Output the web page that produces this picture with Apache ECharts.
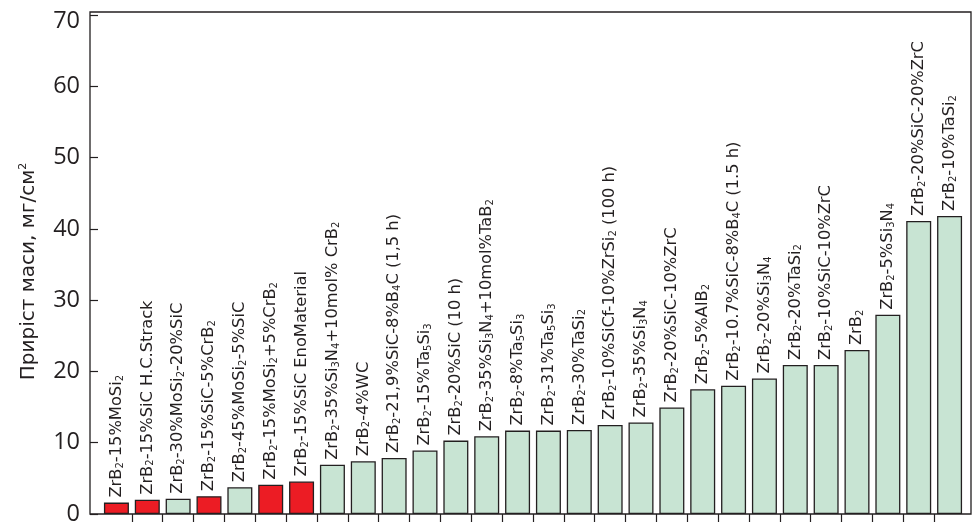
<!DOCTYPE html>
<html>
<head>
<meta charset="utf-8">
<title>Приріст маси ZrB2-кераміки</title>
<script src="https://cdn.jsdelivr.net/npm/echarts@6/dist/echarts.min.js"></script>
<style>
  html, body { margin: 0; padding: 0; background: #ffffff; }
  #chart { width: 973px; height: 522px; }
</style>
</head>
<body>
<div id="chart"></div>
<script>
// Compositions; "_N" marks a subscript digit in the chemical formula
const materials = [
  'ZrB_2-15%MoSi_2',
  'ZrB_2-15%SiC H.C.Strack',
  'ZrB_2-30%MoSi_2-20%SiC',
  'ZrB_2-15%SiC-5%CrB_2',
  'ZrB_2-45%MoSi_2-5%SiC',
  'ZrB_2-15%MoSi_2+5%CrB_2',
  'ZrB_2-15%SiC EnoMaterial',
  'ZrB_2-35%Si_3N_4+10mol% CrB_2',
  'ZrB_2-4%WC',
  'ZrB_2-21,9%SiC-8%B_4C (1,5 h)',
  'ZrB_2-15%Ta_5Si_3',
  'ZrB_2-20%SiC (10 h)',
  'ZrB_2-35%Si_3N_4+10mol%TaB_2',
  'ZrB_2-8%Ta_5Si_3',
  'ZrB_2-31%Ta_5Si_3',
  'ZrB_2-30%TaSi_2',
  'ZrB_2-10%SiCf-10%ZrSi_2 (100 h)',
  'ZrB_2-35%Si_3N_4',
  'ZrB_2-20%SiC-10%ZrC',
  'ZrB_2-5%AlB_2',
  'ZrB_2-10.7%SiC-8%B_4C (1.5 h)',
  'ZrB_2-20%Si_3N_4',
  'ZrB_2-20%TaSi_2',
  'ZrB_2-10%SiC-10%ZrC',
  'ZrB_2',
  'ZrB_2-5%Si_3N_4',
  'ZrB_2-20%SiC-20%ZrC',
  'ZrB_2-10%TaSi_2'
];

// Mass gain, mg/cm²
const massGain = [
  1.6, 2.0, 2.15, 2.5, 3.75, 4.1, 4.55, 6.9, 7.4, 7.85,
  8.9, 10.3, 10.9, 11.7, 11.7, 11.8, 12.5, 12.85, 14.95, 17.5,
  18.0, 19.0, 20.9, 20.9, 23.0, 27.95, 41.1, 41.8
];

// Samples drawn in red
const highlighted = [
  true, true, false, true, false, true, true, false, false, false,
  false, false, false, false, false, false, false, false, false, false,
  false, false, false, false, false, false, false, false
];

const yTicks = [0, 10, 20, 30, 40, 50, 60, 70];
const yTitle = 'Приріст маси, мг/см';
const yTitleSup = '2';

const INK = '#231f20';
const RED = '#ec1c24';
const GREEN = '#c8e4d3';

// Turn "ZrB_2-15%MoSi_2" into rich-text tokens with subscripts
function toRich(name) {
  return name.split(/_(\d)/).map(function (part, i) {
    if (part === '') return '';
    return i % 2 ? '{s|' + part + '}' : '{n|' + part + '}';
  }).join('');
}

// Tick positions on the category boundaries between neighbouring bars
const boundaries = materials.slice(1).map(function (_, i) { return i + 1; });

const yMin = yTicks[0];
const yMax = yTicks[yTicks.length - 1];
const yStep = yTicks[1] - yTicks[0];

const chart = echarts.init(document.getElementById('chart'), null, { renderer: 'canvas' });

const option = {
  animation: false,
  backgroundColor: '#ffffff',
  grid: [
    { // outer frame
      left: 90, right: 2, top: 12, bottom: 8,
      outerBoundsMode: 'none', containLabel: false,
      show: true, borderColor: INK, borderWidth: 1.3, backgroundColor: 'transparent'
    },
    { // value axis
      left: 90, right: 2, top: 15, bottom: 8,
      outerBoundsMode: 'none', containLabel: false
    },
    { // bars
      left: 101, right: 8, top: 15, bottom: 8,
      outerBoundsMode: 'none', containLabel: false
    }
  ],
  xAxis: [
    { gridIndex: 0, type: 'value', show: false, min: 0, max: 1 },
    { gridIndex: 1, type: 'value', show: false, min: 0, max: 1 },
    {
      gridIndex: 2, type: 'category', data: materials,
      axisLine: { show: false }, axisTick: { show: false }, axisLabel: { show: false }
    },
    {
      gridIndex: 2, type: 'value', position: 'bottom',
      min: 0, max: materials.length,
      axisLine: { show: false }, axisLabel: { show: false }, splitLine: { show: false },
      axisTick: {
        show: true, inside: false, length: 8,
        customValues: boundaries,
        lineStyle: { color: INK, width: 1.2 }
      }
    }
  ],
  yAxis: [
    { gridIndex: 0, type: 'value', show: false, min: 0, max: 1 },
    {
      gridIndex: 1, type: 'value',
      min: yMin, max: yMax, interval: yStep,
      axisLine: { show: false },
      splitLine: { show: false },
      axisTick: { show: true, inside: true, length: 8, lineStyle: { color: INK, width: 1.2 } },
      axisLabel: {
        margin: 10,
        color: INK,
        fontFamily: 'Open Sans',
        fontSize: 23.5,
        formatter: function (v) {
          return v === yMax ? '{top|' + v + '}' : String(v);
        },
        rich: {
          top: { fontFamily: 'Open Sans', fontSize: 23.5, color: INK, padding: [12, 0, 0, 0] }
        }
      },
      name: '{a|' + yTitle + '}{sup|' + yTitleSup + '}',
      nameLocation: 'middle',
      nameGap: 51,
      nameTextStyle: {
        padding: [0, 14, 0, 0],
        rich: {
          a: { fontFamily: 'DejaVu Sans', fontSize: 20, lineHeight: 21, color: INK },
          sup: { fontFamily: 'DejaVu Sans', fontSize: 11, lineHeight: 11, verticalAlign: 'top', color: INK }
        }
      }
    },
    {
      gridIndex: 2, type: 'value', show: false,
      min: yMin, max: yMax, interval: yStep
    }
  ],
  series: [
    {
      type: 'bar',
      xAxisIndex: 2,
      yAxisIndex: 2,
      barWidth: 25,
      data: massGain.map(function (v, i) {
        return { value: v, itemStyle: { color: highlighted[i] ? RED : GREEN } };
      }),
      itemStyle: { borderColor: INK, borderWidth: 1.3 },
      label: {
        show: true,
        position: 'top',
        rotate: 90,
        align: 'left',
        verticalAlign: 'middle',
        distance: 5,
        formatter: function (p) { return toRich(materials[p.dataIndex]); },
        rich: {
          n: { fontFamily: 'DejaVu Sans', fontSize: 16.3, lineHeight: 17, color: INK },
          s: { fontFamily: 'DejaVu Sans', fontSize: 10, lineHeight: 10, verticalAlign: 'bottom', color: INK }
        }
      }
    }
  ]
};

chart.setOption(option);
</script>
</body>
</html>
